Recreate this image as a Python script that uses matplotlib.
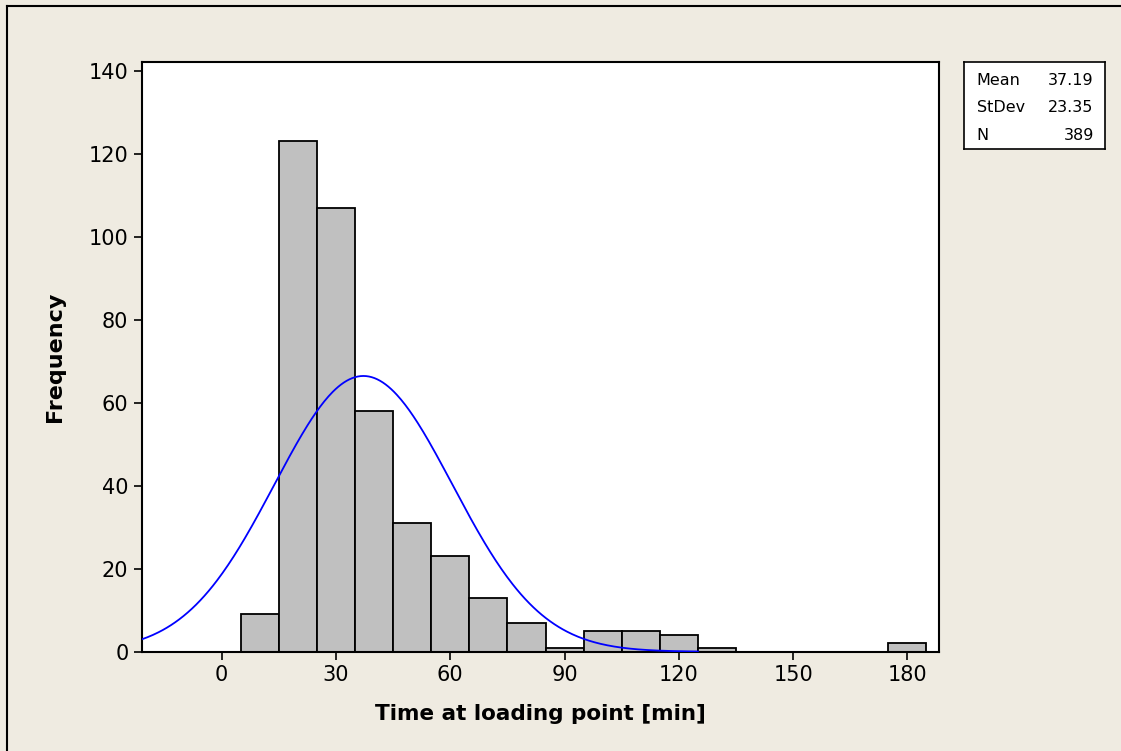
import matplotlib
matplotlib.use("Agg")
import matplotlib.pyplot as plt
import numpy as np
from matplotlib.lines import Line2D

# histogram bins (width 10, from 5 to 185) and counts
bin_edges = np.arange(5, 186, 10)
counts = [9, 123, 107, 58, 31, 23, 13, 7, 1, 5, 5, 4, 1, 0, 0, 0, 0, 2]

mean = 37.19
stdev = 23.35
n = 389

xticks = [0, 30, 60, 90, 120, 150, 180]
yticks = [0, 20, 40, 60, 80, 100, 120, 140]

bg = '#EFEBE1'

fig = plt.figure(figsize=(11.21, 7.51), dpi=100, facecolor=bg)
ax = fig.add_axes([0.1264, 0.1322, 0.7113, 0.7856])
ax.set_facecolor('white')

lefts = bin_edges[:-1]
ax.bar(lefts, counts, width=10, align='edge', color='#C0C0C0',
       edgecolor='black', linewidth=1.3, zorder=2)

# fitted normal curve
xs = np.linspace(-21, 125, 400)
ys = n * 10 / (stdev * np.sqrt(2 * np.pi)) * np.exp(-0.5 * ((xs - mean) / stdev) ** 2)
ax.plot(xs, ys, color='#0000FF', linewidth=1.3, zorder=3)

ax.set_xlim(-21, 188.3)
ax.set_ylim(0, 142.2)
ax.set_xticks(xticks)
ax.set_yticks(yticks)
ax.tick_params(labelsize=15, length=6, width=1.2, color='black')
for s in ax.spines.values():
    s.set_linewidth(1.5)

ax.set_xlabel('Time at loading point [min]', fontsize=15.5, fontweight='bold', labelpad=14)
ax.set_ylabel('Frequency', fontsize=16, fontweight='bold', labelpad=17)

# stats box
bx = fig.add_axes([964 / 1121, 1 - 149 / 751, (1105 - 964) / 1121, (149 - 61.7) / 751])
bx.set_facecolor('white')
bx.set_xticks([])
bx.set_yticks([])
for s in bx.spines.values():
    s.set_linewidth(1.2)
labels = ['Mean', 'StDev', 'N']
vals = ['%.2f' % mean, '%.2f' % stdev, '%d' % n]
for i, (lab, v) in enumerate(zip(labels, vals)):
    yy = 0.79 - i * 0.32
    bx.text(0.09, yy, lab, fontsize=11.5, va='center', ha='left', transform=bx.transAxes)
    bx.text(0.92, yy, v, fontsize=11.5, va='center', ha='right', transform=bx.transAxes)

# outer frame lines (top and left)
fig.add_artist(Line2D([7 / 1121, 1], [1 - 6 / 751, 1 - 6 / 751], color='black', linewidth=1.5))
fig.add_artist(Line2D([7 / 1121, 7 / 1121], [0, 1 - 6 / 751], color='black', linewidth=1.5))

fig.savefig('out.png', dpi=100, facecolor=bg)
